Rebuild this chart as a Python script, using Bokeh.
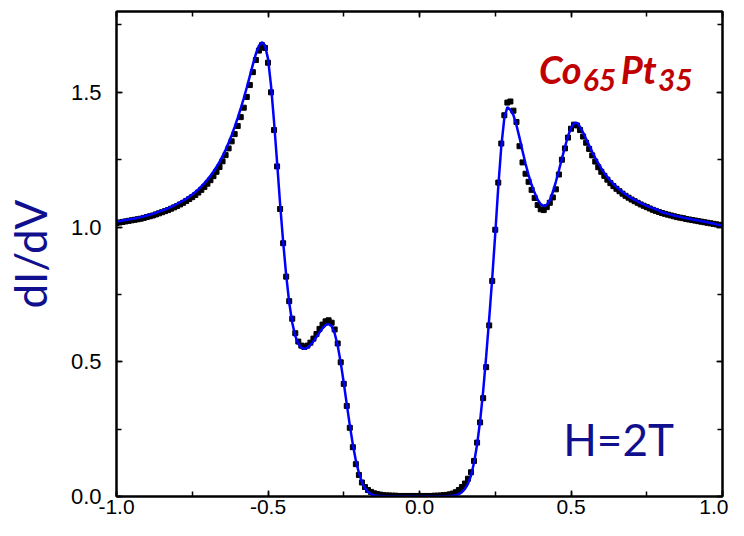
import numpy as np
from bokeh.plotting import figure
from bokeh.models import (Range1d, LinearAxis, SingleIntervalTicker, NumeralTickFormatter,
                          Label, CustomLabelingPolicy)
from bokeh.embed import file_html
from bokeh.resources import INLINE

# bias voltage grid (V), 0.01 V steps from -1 to 1
bias = [round(-1 + 0.01 * i, 2) for i in range(201)]

# measured dI/dV (black squares)
didv_data = [
    1.015, 1.017, 1.019, 1.021, 1.023, 1.025, 1.027, 1.029, 1.031, 1.034,
    1.037, 1.040, 1.043, 1.047, 1.051, 1.055, 1.059, 1.063, 1.068, 1.073,
    1.078, 1.084, 1.090, 1.097, 1.104, 1.111, 1.119, 1.128, 1.138, 1.149,
    1.161, 1.174, 1.189, 1.205, 1.223, 1.244, 1.267, 1.292, 1.318, 1.345,
    1.375, 1.408, 1.443, 1.483, 1.527, 1.575, 1.620, 1.655, 1.675, 1.665,
    1.610, 1.500, 1.360, 1.225, 1.067, 0.940, 0.816, 0.725, 0.660, 0.606,
    0.575, 0.560, 0.555, 0.560, 0.571, 0.586, 0.603, 0.622, 0.638, 0.650,
    0.654, 0.645, 0.620, 0.568, 0.498, 0.418, 0.336, 0.255, 0.183, 0.120,
    0.080, 0.052, 0.035, 0.024, 0.017, 0.012, 0.009, 0.007, 0.005, 0.004,
    0.004, 0.003, 0.003, 0.002, 0.002, 0.002, 0.002, 0.002, 0.002, 0.002,
    0.002, 0.002, 0.002, 0.002, 0.002, 0.003, 0.003, 0.004, 0.005, 0.006,
    0.008, 0.011, 0.016, 0.024, 0.035, 0.048, 0.066, 0.090, 0.132, 0.200,
    0.275, 0.365, 0.480, 0.635, 0.800, 0.990, 1.165, 1.310, 1.415, 1.462,
    1.466, 1.432, 1.390, 1.300, 1.240, 1.198, 1.168, 1.138, 1.108, 1.082,
    1.066, 1.063, 1.074, 1.090, 1.110, 1.140, 1.195, 1.250, 1.292, 1.332,
    1.365, 1.380, 1.377, 1.360, 1.336, 1.313, 1.290, 1.266, 1.243, 1.222,
    1.205, 1.190, 1.176, 1.163, 1.152, 1.142, 1.133, 1.124, 1.116, 1.109,
    1.102, 1.096, 1.090, 1.084, 1.079, 1.074, 1.069, 1.064, 1.060, 1.056,
    1.052, 1.049, 1.046, 1.043, 1.040, 1.037, 1.035, 1.033, 1.030, 1.028,
    1.026, 1.024, 1.022, 1.020, 1.018, 1.016, 1.014, 1.012, 1.010, 1.008,
    1.008,
]

# fitted dI/dV (blue curve)
didv_fit = [
    1.020, 1.022, 1.024, 1.026, 1.028, 1.030, 1.032, 1.034, 1.037, 1.040,
    1.043, 1.046, 1.049, 1.053, 1.057, 1.061, 1.065, 1.070, 1.075, 1.080,
    1.086, 1.092, 1.098, 1.105, 1.113, 1.121, 1.130, 1.140, 1.151, 1.163,
    1.176, 1.190, 1.206, 1.223, 1.242, 1.263, 1.287, 1.313, 1.341, 1.372,
    1.405, 1.440, 1.478, 1.518, 1.560, 1.603, 1.643, 1.673, 1.686, 1.674,
    1.625, 1.525, 1.390, 1.240, 1.085, 0.945, 0.822, 0.720, 0.645, 0.596,
    0.567, 0.552, 0.548, 0.552, 0.562, 0.576, 0.592, 0.609, 0.624, 0.636,
    0.640, 0.632, 0.606, 0.560, 0.497, 0.422, 0.342, 0.264, 0.193, 0.133,
    0.087, 0.053, 0.031, 0.017, 0.009, 0.005, 0.003, 0.002, 0.001, 0.001,
    0.000, 0.000, 0.000, 0.000, 0.000, 0.000, 0.000, 0.000, 0.000, 0.000,
    0.000, 0.000, 0.000, 0.000, 0.000, 0.000, 0.000, 0.000, 0.001, 0.001,
    0.002, 0.003, 0.005, 0.009, 0.016, 0.028, 0.047, 0.078, 0.125, 0.192,
    0.280, 0.390, 0.520, 0.660, 0.810, 0.975, 1.150, 1.300, 1.405, 1.445,
    1.435, 1.415, 1.378, 1.332, 1.282, 1.235, 1.193, 1.157, 1.127, 1.102,
    1.085, 1.078, 1.082, 1.100, 1.130, 1.168, 1.210, 1.254, 1.297, 1.337,
    1.368, 1.386, 1.386, 1.372, 1.351, 1.327, 1.303, 1.279, 1.257, 1.237,
    1.218, 1.201, 1.186, 1.172, 1.160, 1.149, 1.139, 1.130, 1.122, 1.114,
    1.107, 1.101, 1.095, 1.089, 1.084, 1.079, 1.074, 1.070, 1.066, 1.062,
    1.055, 1.052, 1.049, 1.046, 1.043, 1.040, 1.038, 1.035, 1.033, 1.031,
    1.028, 1.026, 1.024, 1.022, 1.020, 1.018, 1.015, 1.013, 1.010, 1.008,
    1.005,
]

x_limits = [-1.0, 1.0]
y_limits = [0.0, 1.8]

p = figure(width=728, height=520, output_backend="svg", toolbar_location=None,
           x_range=Range1d(*x_limits), y_range=Range1d(*y_limits),
           x_axis_location=None, y_axis_location=None,
           min_border_left=115, min_border_right=6,
           min_border_top=11, min_border_bottom=24)
p.xgrid.visible = False
p.ygrid.visible = False
p.outline_line_color = "black"
p.outline_line_width = 2
p.background_fill_color = "white"
p.border_fill_color = "white"

navy = "#10108f"

# mirror axes on top/right: ticks only, no labels drawn
no_labels = CustomLabelingPolicy(code="""
    const all = [...indices]
    for (const i of all) indices.unset(i)
    return indices
""")


def style_axis(ax, labels=True):
    ax.ticker = SingleIntervalTicker(interval=0.5, num_minor_ticks=2)
    ax.formatter = NumeralTickFormatter(format="0.0")
    ax.axis_line_color = "black"
    ax.axis_line_width = 2
    ax.major_tick_in = 6
    ax.major_tick_out = 0
    ax.minor_tick_in = 5
    ax.minor_tick_out = 0
    ax.major_tick_line_width = 1.5
    ax.minor_tick_line_width = 1.5
    ax.major_tick_line_color = "black"
    ax.minor_tick_line_color = "black"
    if labels:
        ax.major_label_text_font = "Liberation Sans"
        ax.major_label_text_font_size = "21px"
        ax.major_label_text_color = "black"
    else:
        ax.major_label_policy = no_labels
        ax.major_label_text_font_size = "1px"
        ax.major_label_standoff = 0


xb = LinearAxis(); style_axis(xb); xb.major_label_standoff = 3
yl = LinearAxis(); style_axis(yl); yl.major_label_standoff = 15
yl.major_label_text_font_size = "22px"
yl.axis_label = "dI/dV"
yl.axis_label_text_font = "Lato"
yl.axis_label_text_font_size = "44px"
yl.axis_label_text_font_style = "normal"
yl.axis_label_text_color = navy
yl.axis_label_standoff = 12
xt = LinearAxis(); style_axis(xt, labels=False)
yr = LinearAxis(); style_axis(yr, labels=False)
p.add_layout(xb, "below")
p.add_layout(yl, "left")
p.add_layout(xt, "above")
p.add_layout(yr, "right")

p.scatter(bias, didv_data, marker="square", size=5, color="black")
p.line(bias, didv_fit, line_color="#0000ff", line_width=2.5)

p.add_layout(Label(x=0.657, y=0.214, text="H=2T", text_align="center",
                   text_baseline="alphabetic", text_font="Lato",
                   text_font_size="44px", text_color=navy))

red = "#c00000"
formula = [("Co", 0.394, 1.586, "38px"), ("65", 0.539, 1.544, "30px"),
           ("Pt", 0.664, 1.586, "38px"), ("35", 0.787, 1.544, "30px")]
for txt, fx, fy, fs in formula:
    p.add_layout(Label(x=fx, y=fy, text=txt, text_align="left",
                       text_baseline="alphabetic", text_font="Lato",
                       text_font_style="bold italic", text_font_size=fs,
                       text_color=red))

open("out.html", "w").write(file_html(p, INLINE))
